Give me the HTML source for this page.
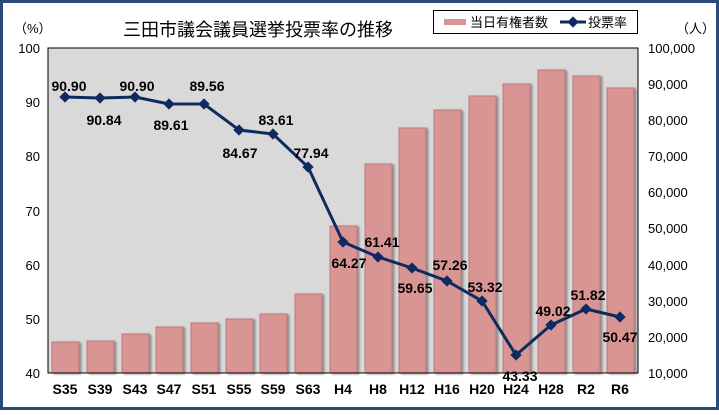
<!DOCTYPE html>
<html><head><meta charset="utf-8"><style>
body{margin:0;width:719px;height:410px;overflow:hidden;background:#fff;font-family:"Liberation Sans","Noto Sans CJK JP",sans-serif}
</style></head><body>
<svg width="719" height="410" xmlns="http://www.w3.org/2000/svg" font-family="Liberation Sans, Noto Sans CJK JP, sans-serif">
<defs><filter id="sh" x="-20%" y="-5%" width="150%" height="110%"><feDropShadow dx="2" dy="1" stdDeviation="1" flood-color="#000" flood-opacity="0.35"/></filter></defs>
<rect x="1.5" y="1.5" width="716" height="407" fill="#fff" stroke="#2b4a7a" stroke-width="3"/>
<rect x="48" y="48" width="590" height="325" fill="#d9d9d9" stroke="#000" stroke-width="1"/>
<text x="258" y="36" font-size="18" text-anchor="middle" fill="#000">三田市議会議員選挙投票率の推移</text>
<text x="14" y="33" font-size="13">（%）</text>
<text x="676" y="33" font-size="13">（人）</text>
<rect x="433.5" y="10.5" width="204" height="23" fill="#fff" stroke="#000"/>
<rect x="444" y="19" width="22" height="6" fill="#d99594"/>
<text x="470" y="27" font-size="13">当日有権者数</text>
<line x1="560" y1="22" x2="586" y2="22" stroke="#0f2a5e" stroke-width="3"/>
<rect x="569" y="18" width="8" height="8" fill="#0f2a5e" transform="rotate(45 573 22)"/>
<text x="588" y="27" font-size="13">投票率</text>
<g font-size="13" fill="#000" text-anchor="end">
<text x="40" y="53">100</text><text x="40" y="107">90</text><text x="40" y="161">80</text><text x="40" y="216">70</text><text x="40" y="270">60</text><text x="40" y="324">50</text><text x="40" y="378">40</text>
</g>
<g font-size="13" fill="#000" text-anchor="start">
<text x="648" y="53">100,000</text><text x="648" y="89">90,000</text><text x="648" y="125">80,000</text><text x="648" y="161">70,000</text><text x="648" y="197">60,000</text><text x="648" y="233">50,000</text><text x="648" y="270">40,000</text><text x="648" y="306">30,000</text><text x="648" y="342">20,000</text><text x="648" y="378">10,000</text>
</g>
<g fill="#d99594" stroke="#c07878" stroke-width="1" filter="url(#sh)">
<rect x="52" y="342" width="27" height="31"/>
<rect x="87" y="341" width="27" height="32"/>
<rect x="122" y="334" width="27" height="39"/>
<rect x="156" y="327" width="27" height="46"/>
<rect x="191" y="323" width="27" height="50"/>
<rect x="226" y="319" width="27" height="54"/>
<rect x="260" y="314" width="27" height="59"/>
<rect x="295" y="294" width="27" height="79"/>
<rect x="330" y="226" width="27" height="147"/>
<rect x="365" y="164" width="27" height="209"/>
<rect x="399" y="128" width="27" height="245"/>
<rect x="434" y="110" width="27" height="263"/>
<rect x="469" y="96" width="27" height="277"/>
<rect x="503" y="84" width="27" height="289"/>
<rect x="538" y="70" width="27" height="303"/>
<rect x="573" y="76" width="27" height="297"/>
<rect x="607" y="88" width="27" height="285"/>
</g>
<line x1="48" y1="373" x2="638" y2="373" stroke="#000"/>
<polyline fill="none" stroke="#0f2a5e" stroke-width="3" points="65,97 100,98 135,97 169,104 204,104 239,130 273,134 308,167 343,242 378,257 412,268 447,281 482,301 516,355 551,325 586,309 620,317"/>
<g fill="#0f2a5e">
<rect x="61" y="93" width="8" height="8" transform="rotate(45 65 97)"/>
<rect x="96" y="94" width="8" height="8" transform="rotate(45 100 98)"/>
<rect x="131" y="93" width="8" height="8" transform="rotate(45 135 97)"/>
<rect x="165" y="100" width="8" height="8" transform="rotate(45 169 104)"/>
<rect x="200" y="100" width="8" height="8" transform="rotate(45 204 104)"/>
<rect x="235" y="126" width="8" height="8" transform="rotate(45 239 130)"/>
<rect x="269" y="130" width="8" height="8" transform="rotate(45 273 134)"/>
<rect x="304" y="163" width="8" height="8" transform="rotate(45 308 167)"/>
<rect x="339" y="238" width="8" height="8" transform="rotate(45 343 242)"/>
<rect x="374" y="253" width="8" height="8" transform="rotate(45 378 257)"/>
<rect x="408" y="264" width="8" height="8" transform="rotate(45 412 268)"/>
<rect x="443" y="277" width="8" height="8" transform="rotate(45 447 281)"/>
<rect x="478" y="297" width="8" height="8" transform="rotate(45 482 301)"/>
<rect x="512" y="351" width="8" height="8" transform="rotate(45 516 355)"/>
<rect x="547" y="321" width="8" height="8" transform="rotate(45 551 325)"/>
<rect x="582" y="305" width="8" height="8" transform="rotate(45 586 309)"/>
<rect x="616" y="313" width="8" height="8" transform="rotate(45 620 317)"/>
</g>
<g font-size="14" font-weight="bold" fill="#000" text-anchor="middle">
<text x="69" y="91">90.90</text>
<text x="104" y="125">90.84</text>
<text x="137" y="91">90.90</text>
<text x="171" y="130">89.61</text>
<text x="207" y="91">89.56</text>
<text x="240" y="158">84.67</text>
<text x="276" y="125">83.61</text>
<text x="311" y="158">77.94</text>
<text x="349" y="268">64.27</text>
<text x="382" y="247">61.41</text>
<text x="415" y="293">59.65</text>
<text x="450" y="270">57.26</text>
<text x="485" y="292">53.32</text>
<text x="520" y="381">43.33</text>
<text x="553" y="316">49.02</text>
<text x="588" y="300">51.82</text>
<text x="620" y="342">50.47</text>
</g>
<g font-size="14" font-weight="bold" fill="#000" text-anchor="middle">
<text x="65" y="394">S35</text><text x="100" y="394">S39</text><text x="135" y="394">S43</text><text x="169" y="394">S47</text><text x="204" y="394">S51</text><text x="239" y="394">S55</text><text x="273" y="394">S59</text><text x="308" y="394">S63</text><text x="343" y="394">H4</text><text x="378" y="394">H8</text><text x="412" y="394">H12</text><text x="447" y="394">H16</text><text x="482" y="394">H20</text><text x="516" y="394">H24</text><text x="551" y="394">H28</text><text x="586" y="394">R2</text><text x="620" y="394">R6</text>
</g>
</svg>
</body></html>
